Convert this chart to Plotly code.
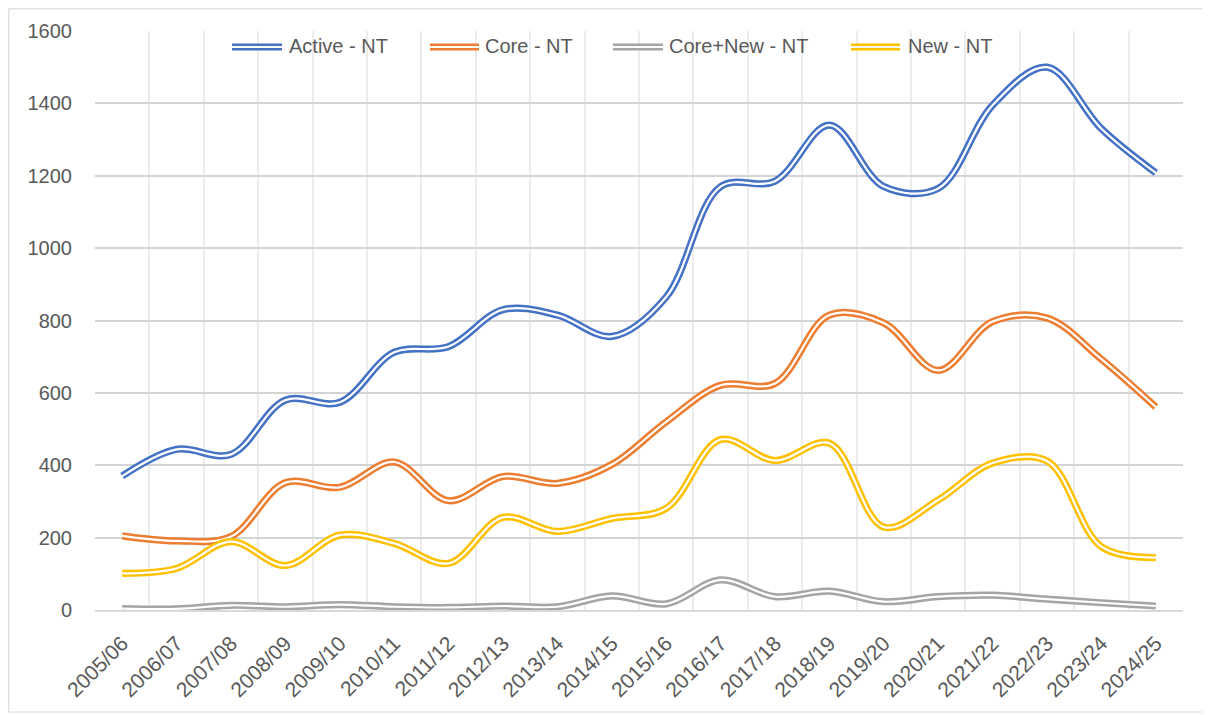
import plotly.graph_objects as go

categories = ["2005/06", "2006/07", "2007/08", "2008/09", "2009/10", "2010/11", "2011/12",
              "2012/13", "2013/14", "2014/15", "2015/16", "2016/17", "2017/18", "2018/19",
              "2019/20", "2020/21", "2021/22", "2022/23", "2023/24", "2024/25"]
active_nt = [370, 444, 430, 580, 574, 712, 728, 830, 815, 756, 865, 1170, 1185, 1340, 1170, 1165, 1395, 1500, 1330, 1208]
core_nt = [205, 191, 203, 352, 339, 409, 302, 369, 350, 402, 520, 621, 626, 815, 793, 662, 797, 807, 693, 561]
core_new_nt = [4, 3, 13, 9, 15, 9, 7, 11, 9, 39, 17, 83, 37, 52, 23, 37, 41, 30, 20, 11]
new_nt = [101, 115, 189, 123, 207, 184, 129, 256, 217, 253, 281, 471, 413, 461, 229, 304, 406, 412, 175, 145]

series_names = ["Active - NT", "Core - NT", "Core+New - NT", "New - NT"]
series_values = [active_nt, core_nt, core_new_nt, new_nt]
series_colors = ["#4472C4", "#ED7D31", "#A5A5A5", "#FFC000"]
legend_ids = ["legend", "legend2", "legend3", "legend4"]
# legend layout (pixel positions in the page): symbol start, symbol end, text start
legend_sym = [(232, 282), (430, 479), (613, 663), (851, 900)]
legend_text_x = [289, 485, 669, 908]

FONT = "Liberation Sans"
TXT = "#595959"
LW, WW = 7.2, 2.2

# page body has an 8px margin: figure is drawn at (8, 8)
OFF = 8
W, H = 1210 - OFF, 715 - OFF
L, R, T, B = 95 - OFF, 27, 31 - OFF, 105
pw = W - L - R
ph = H - T - B

def lx(px):
    return (px - OFF - L) / pw

def ly(py):
    return 1 - (py - OFF - T) / ph

fig = go.Figure()
for name, vals, color, lg in zip(series_names, series_values, series_colors, legend_ids):
    fig.add_trace(go.Scatter(x=categories, y=vals, name=name, mode="lines",
                             line=dict(color=color, width=LW, shape="spline", smoothing=1.0),
                             showlegend=False, hoverinfo="skip"))
    fig.add_trace(go.Scatter(x=categories, y=vals, name=name, mode="lines",
                             line=dict(color="white", width=WW, shape="spline", smoothing=1.0),
                             showlegend=False, hoverinfo="skip"))
    # legend entry (text only; the double-line key is drawn as shapes below)
    fig.add_trace(go.Scatter(x=[None], y=[None], name=name, mode="lines",
                             line=dict(color="rgba(0,0,0,0)", width=0),
                             legend=lg, hoverinfo="skip"))

legend_common = dict(orientation="h", yanchor="top", y=ly(26), xanchor="left",
                     bgcolor="rgba(0,0,0,0)", font=dict(family=FONT, size=20, color=TXT),
                     itemwidth=30)

KEY_Y = 47
shapes = [dict(type="rect", xref="paper", yref="paper",
               x0=(0.8 - L) / pw, x1=(1198 - L) / pw,
               y0=-(B - 3) / ph, y1=1 + (T - 0.8) / ph,
               line=dict(color="#d9d9d9", width=1.2), fillcolor="rgba(0,0,0,0)", layer="below")]
for (s0, s1), color in zip(legend_sym, series_colors):
    for c, w in ((color, LW), ("white", WW)):
        shapes.append(dict(type="line", xref="paper", yref="paper",
                           x0=lx(s0), x1=lx(s1), y0=ly(KEY_Y), y1=ly(KEY_Y),
                           line=dict(color=c, width=w), layer="above"))

legends = {}
for lg, tx in zip(legend_ids, legend_text_x):
    legends[lg] = dict(x=lx(tx - 40), **legend_common)

fig.update_layout(
    width=W, height=H,
    margin=dict(l=L, r=R, t=T, b=B, autoexpand=False),
    paper_bgcolor="white", plot_bgcolor="white",
    font=dict(family=FONT, size=20, color=TXT),
    xaxis=dict(type="category", range=[-0.5, 19.5], tickson="boundaries",
               showgrid=True, gridcolor="#ececec", gridwidth=1.5,
               ticks="", tickangle=-45, ticklabelstandoff=11, automargin=False,
               tickfont=dict(family=FONT, size=21, color=TXT),
               showline=True, linecolor="#d9d9d9", linewidth=1.5, zeroline=False),
    yaxis=dict(range=[0, 1600], dtick=200, showgrid=True, gridcolor="#d4d4d4", gridwidth=1.5,
               ticks="", ticklabelstandoff=22, zeroline=False, showline=False, automargin=False,
               tickfont=dict(family=FONT, size=20, color=TXT)),
    shapes=shapes,
    **legends,
)

fig.write_html("out.html")
